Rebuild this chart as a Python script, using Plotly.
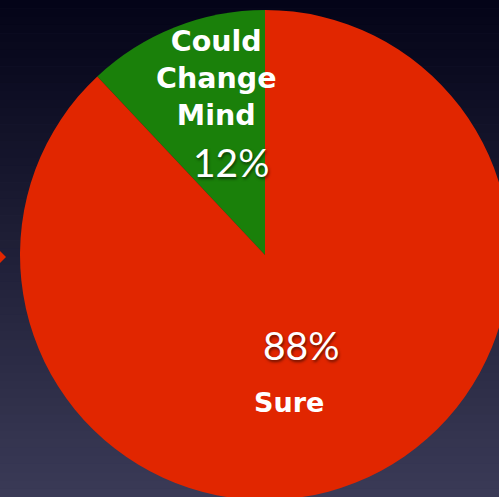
import plotly.graph_objects as go

labels = ["Could Change Mind", "Sure"]
values = [12, 88]
colors = ["#1a800a", "#e12600"]

W, H = 530, 510
VIEW_W, VIEW_H = 499, 497

# pie geometry in pixels (center, radius)
cx, cy, r = 265, 255, 245

def px(x):
    return x / W

def py(y):
    return 1 - y / H

fig = go.Figure()

fig.add_trace(go.Pie(
    labels=labels,
    values=values,
    sort=False,
    direction="clockwise",
    rotation=-43.2,
    marker=dict(colors=colors, line=dict(width=0)),
    textinfo="none",
    hoverinfo="label+percent",
    showlegend=False,
    domain=dict(x=[px(cx - r), px(cx + r)], y=[py(cy + r), py(cy - r)]),
))

# gradient background bands
top = (4, 4, 24)
bot = (58, 58, 86)
n = 60
shapes = []
for i in range(n):
    t = i / (n - 1)
    c = tuple(round(top[k] + (bot[k] - top[k]) * t) for k in range(3))
    shapes.append(dict(
        type="rect", xref="paper", yref="paper", layer="below",
        x0=0, x1=1, y0=py((i + 1) * VIEW_H / n + 0.5), y1=py(i * VIEW_H / n),
        fillcolor="rgb(%d,%d,%d)" % c, line=dict(width=0),
    ))
# small red pointer at left edge
shapes.append(dict(
    type="path", xref="paper", yref="paper", layer="below",
    path="M %f,%f L %f,%f L %f,%f Z" % (px(0), py(251), px(6), py(257), px(0), py(263)),
    fillcolor="#e12600", line=dict(width=0),
))

total = sum(values)
pct = [f"{round(v * 100 / total)}%" for v in values]

shadow = "1px 2px 3px rgba(0,0,0,0.55)"
bold_font = dict(family="'DejaVu Sans', sans-serif", size=28.5, color="white", weight="bold")
num_font = dict(family="Lato, 'Open Sans', sans-serif", size=39, color="white", weight=400, shadow=shadow)

annotations = [
    dict(text="<br>".join(labels[0].split(" ")),
         x=px(216), y=py(78), xref="paper", yref="paper", showarrow=False,
         font=bold_font, align="center", xanchor="center", yanchor="middle"),
    dict(text=pct[0], x=px(231), y=py(162), xref="paper", yref="paper", showarrow=False,
         font=num_font, xanchor="center", yanchor="middle"),
    dict(text=pct[1], x=px(301), y=py(345), xref="paper", yref="paper", showarrow=False,
         font=num_font, xanchor="center", yanchor="middle"),
    dict(text=labels[1], x=px(289), y=py(402), xref="paper", yref="paper", showarrow=False,
         font=dict(family="'DejaVu Sans', sans-serif", size=27, color="white", weight="bold"),
         xanchor="center", yanchor="middle"),
]

fig.update_layout(
    width=W, height=H,
    margin=dict(l=0, r=0, t=0, b=0),
    paper_bgcolor="rgb(58,58,86)",
    plot_bgcolor="rgba(0,0,0,0)",
    shapes=shapes,
    annotations=annotations,
)

fig.write_html(
    "out.html",
    config={"displayModeBar": False},
    post_script="document.body.style.margin='0';document.body.style.overflow='hidden';document.documentElement.style.overflow='hidden';",
)
